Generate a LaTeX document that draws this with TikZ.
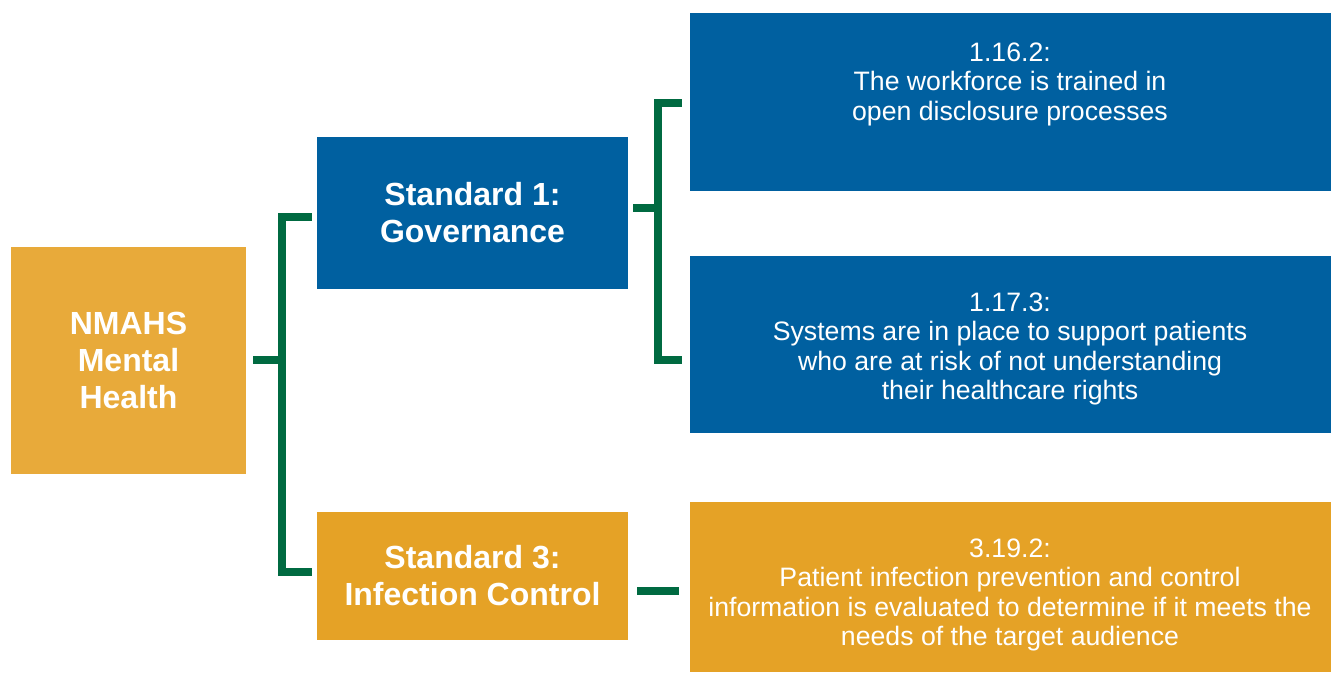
\documentclass[tikz,border=0pt]{standalone}
\usepackage{fontspec}
\setmainfont{Liberation Sans}
\usetikzlibrary{positioning}

\definecolor{stdblue}{HTML}{0060A0}
\definecolor{stdgold}{HTML}{E5A226}
\definecolor{rootgold}{HTML}{E8AA3A}
\definecolor{linkgreen}{HTML}{006A41}

\tikzset{
    box/.style={inner sep=0pt, text=white, align=center},
    bigtext/.style={font=\fontsize{24}{27.75}\selectfont\bfseries},
    note/.style={text=white, align=center, inner sep=0pt, font=\fontsize{20}{22.1}\selectfont},
    link/.style={draw=linkgreen, line width=6pt}
}

\begin{document}
\begin{tikzpicture}[x=0.75pt,y=-0.75pt]
            \useasboundingbox (0,0) rectangle (1331,673);

            \node[box, bigtext, fill=rootgold, minimum width=176.25pt, minimum height=170.25pt] (nmahs) at (128.5,360.5) {NMAHS\\Mental\\Health};
            \node[box, bigtext, fill=stdblue, minimum width=233.25pt, minimum height=114pt] (std1) at (472.5,213) {Standard 1:\\Governance};
            \node[box, bigtext, fill=stdgold, minimum width=233.25pt, minimum height=96pt] (std3) at (472.5,576) {Standard 3:\\Infection Control};

            \node[box, fill=stdblue, minimum width=480.75pt, minimum height=133.5pt] (ind1) at (1010.5,102) {};
            \node[box, fill=stdblue, minimum width=480.75pt, minimum height=132.75pt] (ind2) at (1010.5,344.5) {};
            \node[box, fill=stdgold, minimum width=480.75pt, minimum height=127.5pt] (ind3) at (1010.5,587) {};

            \node[note] (ind1txt) at (1010,84) {1.16.2:\\The workforce is trained in\\open disclosure processes};
            \node[note] (ind2txt) at (1010,349) {1.17.3:\\Systems are in place to support patients\\who are at risk of not understanding\\their healthcare rights};
            \node[note] (ind3txt) at (1010,595) {3.19.2:\\Patient infection prevention and control\\information is evaluated to determine if it meets the\\needs of the target audience};

            \coordinate (j1) at (282,360);
            \coordinate (j1top) at (282,217);
            \coordinate (j1bot) at (282,572);
            \coordinate (j2) at (658,208);
            \coordinate (j2top) at (658,103);
            \coordinate (j2bot) at (658,360);

            \draw[link] ([xshift=5.25pt]nmahs.east |- j1) -- (j1);
            \draw[link] ([xshift=-3.75pt]std1.west |- j1top) -- (j1top) -- (j1bot) -- ([xshift=-3.75pt]std3.west |- j1bot);

            \draw[link] ([xshift=3.75pt]std1.east |- j2) -- (j2);
            \draw[link] ([xshift=-6pt]ind1.west |- j2top) -- (j2top) -- (j2bot) -- ([xshift=-6pt]ind2.west |- j2bot);

            \draw[link] ([xshift=6.75pt]std3.east |- 0,591) -- ([xshift=-8.25pt]ind3.west |- 0,591);
        \end{tikzpicture}
\end{document}
